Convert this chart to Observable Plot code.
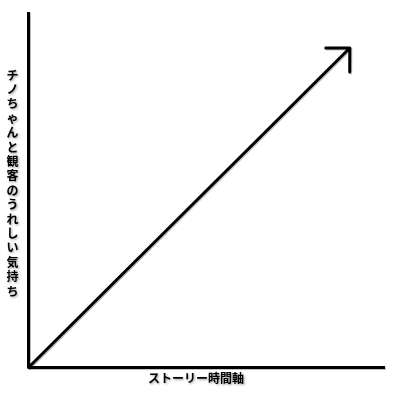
<!DOCTYPE html>
<html><head><meta charset="utf-8">
<script src="https://cdn.jsdelivr.net/npm/d3@7"></script>
<script src="https://cdn.jsdelivr.net/npm/@observablehq/plot@0.6"></script>
<style>
body{margin:0;background:#fff}
#chart svg text{filter:drop-shadow(1px 1px 0.8px rgba(0,0,0,0.4));}
#chart svg line, #chart svg path{filter:drop-shadow(1px 1px 0.6px rgba(0,0,0,0.25));}
</style>
</head><body><div id="chart"></div>
<script>
const xLabel = "ストーリー時間軸";
const yLabelChars = ["チ","ノ","ち","ゃ","ん","と","観","客","の","う","れ","し","い","気","持","ち"];
const axisOrigin = [0];
const axisMax = 100;
const trendTime = [0, 90];
const trendFeeling = [0, 90];

const trend = [{t1: trendTime[0], f1: trendFeeling[0], t2: trendTime[1], f2: trendFeeling[1]}];
const font = "'Noto Sans CJK JP', 'Noto Sans CJK SC', sans-serif";

const chart = Plot.plot({
  width: 400,
  height: 400,
  marginLeft: 28,
  marginRight: 15,
  marginTop: 12,
  marginBottom: 33,
  style: {fontFamily: font, background: "#fff"},
  x: {domain: [0, axisMax], axis: null},
  y: {domain: [0, axisMax], axis: null},
  marks: [
    Plot.ruleX(axisOrigin, {y1: 0, y2: axisMax, stroke: "black", strokeWidth: 3}),
    Plot.ruleY(axisOrigin, {x1: 0, x2: axisMax, stroke: "black", strokeWidth: 3}),
    Plot.arrow(trend, {x1: "t1", y1: "f1", x2: "t2", y2: "f2", stroke: "black", strokeWidth: 3, headLength: 12, headAngle: 90}),
    Plot.text([xLabel], {text: d => d, frameAnchor: "bottom", dx: -11, dy: 15, textAnchor: "middle", fontSize: 12, fontWeight: "bold", fill: "black"}),
    Plot.text([yLabelChars.join("\n")], {text: d => d, frameAnchor: "left", dx: -16, dy: -7, textAnchor: "middle", fontSize: 12, fontWeight: "bold", lineHeight: 1.2, fill: "black"})
  ]
});
document.getElementById("chart").appendChild(chart);
</script>
</body></html>
